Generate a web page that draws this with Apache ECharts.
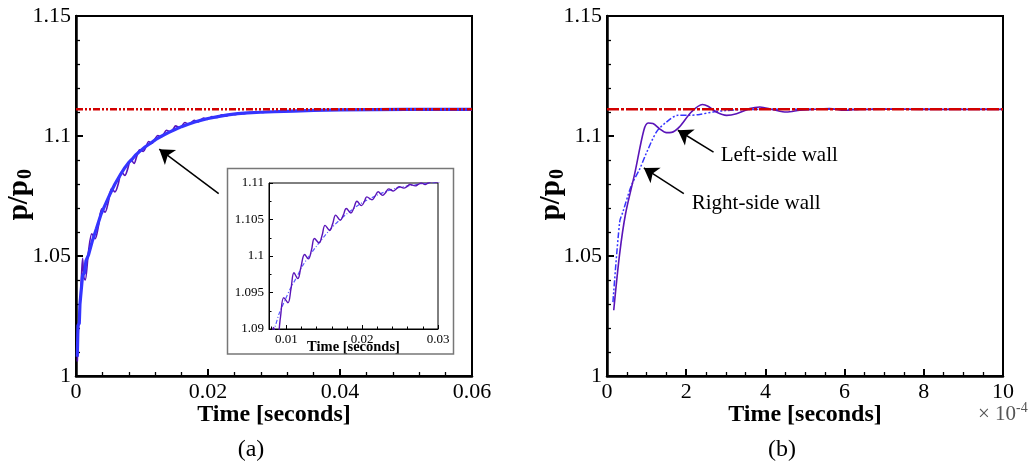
<!DOCTYPE html>
<html><head><meta charset="utf-8">
<script src="https://cdn.jsdelivr.net/npm/echarts@6/dist/echarts.min.js"></script>
<style>html,body{margin:0;padding:0;background:#fff}#c{width:1031px;height:463px}</style>
</head><body><div id="c"></div>
<script>
const FONT = '"Liberation Serif","Times New Roman",serif';

// ---- Panel (a): time [s] vs p/p0 ----
const leftWallA = [
  [0.0002,1.006],[0.0004,1.022],[0.0006,1.029],[0.0008,1.040],[0.0010,1.049],[0.0012,1.041],
  [0.0014,1.040],[0.0019,1.052],[0.0024,1.0593],[0.0029,1.0572],[0.0034,1.0625],[0.0039,1.0697],
  [0.0044,1.0683],[0.0049,1.0725],[0.0054,1.0781],[0.0059,1.0767],[0.0064,1.0800],[0.0069,1.0850],
  [0.0074,1.0836],[0.0078,1.0860],[0.0083,1.0902],[0.0088,1.0886],[0.0092,1.0915],[0.00965,1.0943],
  [0.0102,1.0936],[0.0106,1.0955],[0.0110,1.0977],[0.0115,1.0969],[0.0119,1.0984],[0.0124,1.1002],
  [0.0129,1.0996],[0.0133,1.1008],[0.0137,1.1024],[0.0143,1.1018],[0.0147,1.1028],[0.0151,1.1042],
  [0.0157,1.1035],[0.0161,1.1044],[0.0165,1.1056],[0.0171,1.1049],[0.0175,1.1056],[0.0179,1.1065],
  [0.0185,1.1059],[0.0189,1.1066],[0.0193,1.1075],[0.0199,1.1069],[0.0203,1.1075],[0.0206,1.1081],
  [0.0213,1.1077],[0.0217,1.1082],[0.0221,1.1088],[0.0227,1.1083],[0.0231,1.1087],[0.0235,1.1092],
  [0.0241,1.1089],[0.0245,1.1092],[0.0249,1.1095],[0.0255,1.1093],[0.0259,1.1095],[0.0263,1.1098],
  [0.0270,1.1096],[0.0274,1.1098],[0.0278,1.1100],[0.0283,1.1098],[0.0287,1.1100],[0.0292,1.1102],
  [0.0297,1.1101],[0.0305,1.1103],[0.0320,1.1105],[0.0340,1.1107],[0.0370,1.1109],[0.0400,1.1110],
  [0.0450,1.1111],[0.0600,1.1111]
];
const rightWallA = [
  [0.0002,1.008],[0.0003,1.021],[0.0005,1.022],[0.0006,1.030],[0.0009,1.030],[0.0010,1.042],
  [0.0013,1.043],[0.0015,1.048],[0.0019,1.0505],[0.0025,1.0565],[0.0031,1.0615],[0.0038,1.0675],
  [0.0044,1.0712],[0.0051,1.0755],[0.0059,1.0800],[0.0068,1.0842],[0.0074,1.0868],[0.0080,1.0890],
  [0.0085,1.0903],[0.0090,1.0920],[0.0097,1.0937],[0.0105,1.0955],[0.0113,1.0970],[0.0121,1.0986],
  [0.0130,1.1000],[0.0140,1.1014],[0.0150,1.1027],[0.0160,1.1039],[0.0170,1.1049],[0.0180,1.1058],
  [0.0190,1.1066],[0.0200,1.1073],[0.0215,1.1081],[0.0230,1.1088],[0.0245,1.1093],[0.0260,1.1096],
  [0.0280,1.1099],[0.0300,1.1101],[0.0330,1.1104],[0.0360,1.1107],[0.0400,1.1109],[0.0450,1.1110],
  [0.0500,1.1111],[0.0600,1.1111]
];
const equilibriumA = [[0, 1.1111], [0.06, 1.1111]];

// ---- Panel (b): time in units of 1e-4 s ----
const leftWallB = [
  [0.17,1.0274],[0.32,1.051],[0.47,1.0677],[0.70,1.0843],[0.93,1.1024],[1.04,1.1054],[1.16,1.1052],
  [1.33,1.1030],[1.50,1.1014],[1.63,1.1015],[1.83,1.1038],[2.13,1.1100],[2.41,1.1131],[2.55,1.1124],
  [2.76,1.1100],[3.02,1.1086],[3.27,1.1093],[3.60,1.1114],[3.86,1.1121],[4.19,1.1110],[4.53,1.1100],
  [4.87,1.1107],[5.20,1.1111],[5.62,1.1114],[6.00,1.1107],[6.38,1.1111],[7.0,1.1112],[8.0,1.1111],
  [9.0,1.1111],[10.0,1.1111]
];
const rightWallB = [
  [0.15,1.0308],[0.32,1.0642],[0.40,1.0683],[0.62,1.0795],[0.83,1.0864],[0.99,1.0927],[1.25,1.1017],
  [1.50,1.1058],[1.79,1.1086],[2.05,1.1086],[2.34,1.1090],[2.68,1.1100],[3.0,1.1106],[3.4,1.1110],
  [4.0,1.1111],[6.0,1.1111],[8.0,1.1111],[10.0,1.1111]
];
const equilibriumB = [[0, 1.1111], [10, 1.1111]];

// inset tick values
const insetMajorX = [0.01, 0.02, 0.03];
const insetMinorX = [0.008, 0.012, 0.014, 0.016, 0.018, 0.022, 0.024, 0.026, 0.028];

const PURPLE = '#5a14b8', BLUE = '#3535ff', RED = '#d20000';

function mainX(grid, min, max, interval, split, name) {
  return {
    gridIndex: grid, type: 'value', min, max, interval,
    axisLine: { lineStyle: { color: '#000', width: 2.5 } },
    axisTick: { inside: true, length: 7, lineStyle: { color: '#000', width: 2 } },
    minorTick: { show: true, splitNumber: split, length: 4, lineStyle: { color: '#000', width: 1.3 } },
    splitLine: { show: false }, minorSplitLine: { show: false },
    axisLabel: { fontFamily: FONT, fontSize: 22, color: '#000', margin: 5 },
    name, nameLocation: 'middle', nameGap: 27, nameMoveOverlap: false,
    nameTextStyle: { fontFamily: FONT, fontSize: 24, fontWeight: 'bold', color: '#000' }
  };
}
function mainY(grid) {
  return {
    gridIndex: grid, type: 'value', min: 1, max: 1.15, interval: 0.05,
    axisLine: { lineStyle: { color: '#000', width: 2.5 } },
    axisTick: { inside: true, length: 7, lineStyle: { color: '#000', width: 2 } },
    minorTick: { show: true, splitNumber: 5, length: 4, lineStyle: { color: '#000', width: 1.3 } },
    splitLine: { show: false }, minorSplitLine: { show: false },
    axisLabel: { fontFamily: FONT, fontSize: 22, color: '#000', margin: 5 }
  };
}

const chart = echarts.init(document.getElementById('c'), null, { renderer: 'canvas' });
const option = {
  animation: false,
  backgroundColor: '#fff',
  grid: [
    { left: 76, top: 16, width: 396, height: 360, show: true, borderColor: '#000', borderWidth: 2, containLabel: false, outerBoundsMode: 'none' },
    { left: 269, top: 183, width: 169, height: 146, show: true, borderColor: '#000', borderWidth: 1, backgroundColor: '#fff', z: 3, containLabel: false, outerBoundsMode: 'none' },
    { left: 607, top: 16, width: 396, height: 360, show: true, borderColor: '#000', borderWidth: 2, containLabel: false, outerBoundsMode: 'none' }
  ],
  xAxis: [
    mainX(0, 0, 0.06, 0.02, 5, 'Time [seconds]'),
    {
      gridIndex: 1, type: 'value', min: 0.0077, max: 0.03, z: 4,
      axisLine: { lineStyle: { color: '#000', width: 1 } },
      axisTick: { inside: true, length: 4, customValues: insetMajorX, lineStyle: { color: '#000', width: 1 } },
      splitLine: { show: false },
      axisLabel: { customValues: insetMajorX, fontFamily: FONT, fontSize: 13, color: '#000', margin: 4 },
      name: 'Time [seconds]', nameLocation: 'middle', nameGap: 11, nameMoveOverlap: false,
      nameTextStyle: { fontFamily: FONT, fontSize: 14.5, fontWeight: 'bold', color: '#000' }
    },
    {
      gridIndex: 1, type: 'value', min: 0.0077, max: 0.03, z: 4, position: 'bottom',
      axisLine: { show: false },
      axisTick: { inside: true, length: 2.5, customValues: insetMinorX, lineStyle: { color: '#000', width: 1 } },
      splitLine: { show: false }, axisLabel: { show: false }
    },
    mainX(2, 0, 10, 2, 4, 'Time [seconds]')
  ],
  yAxis: [
    mainY(0),
    {
      gridIndex: 1, type: 'value', min: 1.09, max: 1.11, interval: 0.005, z: 4,
      axisLine: { lineStyle: { color: '#000', width: 1 } },
      axisTick: { inside: true, length: 4, lineStyle: { color: '#000', width: 1 } },
      minorTick: { show: true, splitNumber: 2, length: 2.5, lineStyle: { color: '#000', width: 1 } },
      splitLine: { show: false }, minorSplitLine: { show: false },
      axisLabel: { fontFamily: FONT, fontSize: 13, color: '#000', margin: 5 }
    },
    mainY(2)
  ],
  series: [
    { name: 'Left-side wall', type: 'line', xAxisIndex: 0, yAxisIndex: 0, data: leftWallA, showSymbol: false, symbol: 'none',
      smooth: 0.3, lineStyle: { color: PURPLE, width: 1.6 }, z: 2 },
    { name: 'Right-side wall', type: 'line', xAxisIndex: 0, yAxisIndex: 0, data: rightWallA, showSymbol: false, symbol: 'none',
      lineStyle: { color: BLUE, width: 3.2 }, z: 3 },
    { name: 'Equilibrium', type: 'line', xAxisIndex: 0, yAxisIndex: 0, data: equilibriumA, showSymbol: false, symbol: 'none',
      lineStyle: { color: RED, width: 2.5, type: [7, 2, 2, 2, 2, 2] }, z: 4,
      markLine: { silent: true, symbol: ['none', 'arrow'], symbolSize: 14, label: { show: false },
        lineStyle: { color: '#000', width: 1.5, type: 'solid' },
        data: [[{ coord: [0.02162, 1.0760] }, { coord: [0.01262, 1.0945] }]] } },
    { name: 'Left-side wall', type: 'line', xAxisIndex: 1, yAxisIndex: 1, data: leftWallA, showSymbol: false, symbol: 'none',
      smooth: 0.4, lineStyle: { color: PURPLE, width: 1.4 }, z: 6 },
    { name: 'Right-side wall', type: 'line', xAxisIndex: 1, yAxisIndex: 1, data: rightWallA, showSymbol: false, symbol: 'none',
      smooth: 0.3, lineStyle: { color: '#5a5aff', width: 1.2, type: [4, 2, 1, 2] }, z: 5 },
    { name: 'Left-side wall', type: 'line', xAxisIndex: 3, yAxisIndex: 2, data: leftWallB, showSymbol: false, symbol: 'none',
      smooth: 0.3, lineStyle: { color: PURPLE, width: 1.6 }, z: 3 },
    { name: 'Right-side wall', type: 'line', xAxisIndex: 3, yAxisIndex: 2, data: rightWallB, showSymbol: false, symbol: 'none',
      smooth: 0.3, lineStyle: { color: BLUE, width: 1.5, type: [6, 2, 2, 2, 2, 2] }, z: 2 },
    { name: 'Equilibrium', type: 'line', xAxisIndex: 3, yAxisIndex: 2, data: equilibriumB, showSymbol: false, symbol: 'none',
      lineStyle: { color: RED, width: 2.5, type: [12, 2, 3, 2] }, z: 4,
      markLine: { silent: true, symbol: ['none', 'arrow'], symbolSize: 14, label: { show: false },
        lineStyle: { color: '#000', width: 1.5, type: 'solid' },
        data: [
          [{ coord: [2.69, 1.0933] }, { coord: [1.79, 1.1024] }],
          [{ coord: [1.94, 1.0760] }, { coord: [0.93, 1.0867] }]
        ] } }
  ]
};
chart.setOption(option);

// rotated "p/p0" axis titles with a lowered subscript
function pTitle(x, y, big, small, drop) {
  return {
    type: 'group', x, y, rotation: Math.PI / 2, z: 10,
    children: [
      { type: 'text', x: 0, y: 0, style: { text: 'p/p', font: 'bold ' + big + 'px ' + FONT, fill: '#000', textAlign: 'right', textVerticalAlign: 'middle' } },
      { type: 'text', x: 1, y: drop, style: { text: '0', font: 'bold ' + small + 'px ' + FONT, fill: '#000', textAlign: 'left', textVerticalAlign: 'middle' } }
    ]
  };
}

const lw = chart.convertToPixel({ gridIndex: 2 }, [2.87, 1.092]);
const rw = chart.convertToPixel({ gridIndex: 2 }, [2.14, 1.072]);
chart.setOption({
  graphic: [
    { type: 'rect', z: 1, shape: { x: 227.5, y: 168.5, width: 226, height: 185.5 },
      style: { fill: '#fff', stroke: '#777', lineWidth: 1.5 } },
    pTitle(20, 180, 29, 20, 6),
    pTitle(552, 180, 29, 20, 6),
    pTitle(240, 262, 15, 10, 3),
    { type: 'text', x: lw[0], y: lw[1], style: { text: 'Left-side wall', font: '21px ' + FONT, fill: '#000', textVerticalAlign: 'middle' } },
    { type: 'text', x: rw[0], y: rw[1], style: { text: 'Right-side wall', font: '21px ' + FONT, fill: '#000', textVerticalAlign: 'middle' } },
    { type: 'text', x: 251, y: 450, style: { text: '(a)', font: '24px ' + FONT, fill: '#000', textAlign: 'center', textVerticalAlign: 'middle' } },
    { type: 'text', x: 782, y: 450, style: { text: '(b)', font: '24px ' + FONT, fill: '#000', textAlign: 'center', textVerticalAlign: 'middle' } },
    { type: 'text', x: 978, y: 414, style: {
        text: '{a|\u00d7 10}{b|-4}', textVerticalAlign: 'middle',
        rich: { a: { fontFamily: FONT, fontSize: 21, fill: '#555', color: '#555' },
                b: { fontFamily: FONT, fontSize: 14, fill: '#555', color: '#555', padding: [0, 0, 12, 0] } } } }
  ]
});
</script></body></html>
